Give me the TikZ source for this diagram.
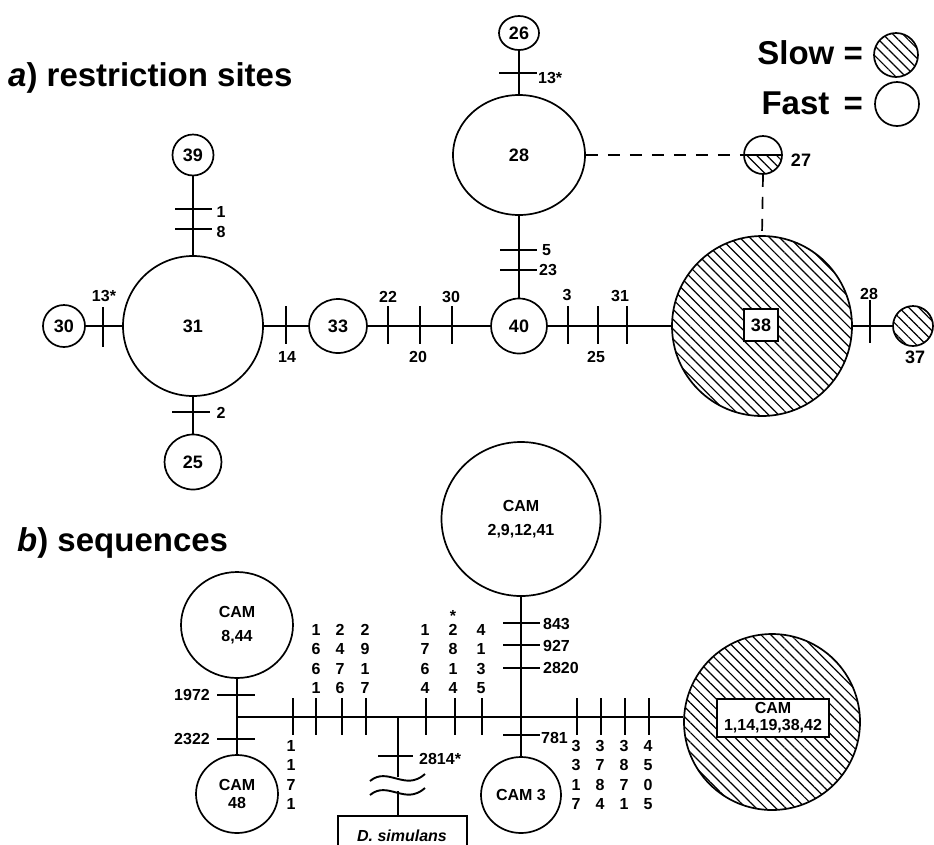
\documentclass[tikz,border=0pt]{standalone}
\usepackage{fontspec}
\setmainfont{Liberation Sans}
\usetikzlibrary{patterns.meta,shapes.geometric}
\begin{document}
\begin{tikzpicture}[x=1pt,y=-1pt,
  hap/.style={circle,draw,line width=1.7pt,inner sep=0pt,font=\bfseries\fontsize{18}{20}\selectfont},
  ell/.style={ellipse,draw,line width=1.7pt,inner sep=0pt,font=\bfseries\fontsize{18}{20}\selectfont},
  hatch/.style={pattern={Lines[angle=-45,distance=7pt,line width=1.2pt]}},
  conn/.style={line width=2.8pt},
  tickmark/.style={line width=1.8pt},
  lab/.style={font=\bfseries\fontsize{16}{18}\selectfont,inner sep=0pt},
  col/.style={font=\bfseries\fontsize{16}{19.3}\selectfont,align=center,inner sep=0pt},
  cam/.style={font=\bfseries\fontsize{16}{24}\selectfont,align=center},
  bigtitle/.style={font=\bfseries\fontsize{33}{36}\selectfont,inner sep=0pt},
  dashline/.style={line width=1.7pt,dash pattern=on 12pt off 10pt}
]
\useasboundingbox (0,0) rectangle (934,844);

% ---------------- titles & legend ----------------
\node[bigtitle,anchor=west] (ta) at (8,78) {\textit{a}) restriction sites};
\node[bigtitle,anchor=west] (tb) at (17,543) {\textit{b}) sequences};
\node[bigtitle,anchor=east] (slow) at (863,53) {Slow =};
\node[bigtitle,anchor=east] (fast) at (863,103) {Fast\hspace{5pt} =};
\node[hap,hatch,minimum size=44pt] (nslow) at (896,55) {};
\node[hap,minimum size=44pt] (nfast) at (897,104) {};

% ---------------- (a) restriction sites ----------------
\node[hap,minimum size=41pt] (n39) at (193,155) {39};
\node[hap,minimum size=140pt] (n31) at (193,326) {31};
\node[hap,minimum size=42pt] (n30) at (64,326) {30};
\node[ell,minimum width=58pt,minimum height=54pt] (n33) at (338,326) {33};
\node[ell,minimum width=57pt,minimum height=55pt] (n25) at (193,462) {25};
\node[ell,minimum width=56pt,minimum height=55pt] (n40) at (519,326) {40};
\node[ell,minimum width=132pt,minimum height=120pt] (n28) at (519,155) {28};
\node[ell,minimum width=40pt,minimum height=34pt] (n26) at (519,33) {26};
% node 27 (half slow / half fast)
\fill[hatch] (744,155) arc[start angle=180,end angle=360,radius=19pt] -- cycle;
\node[hap,minimum size=38pt] (n27) at (763,155) {};
\draw[line width=1.7pt] (n27.west) -- (n27.east);
\node[lab,font=\bfseries\fontsize{18}{20}\selectfont] (l27) at (801,160) {27};
% node 38
\node[hap,hatch,minimum size=180pt] (n38) at (762,326) {};
\node[draw,fill=white,line width=1.7pt,minimum width=34pt,minimum height=32pt,inner sep=0pt,font=\bfseries\fontsize{18}{20}\selectfont] (b38) at (761,325) {38};
\node[hap,hatch,minimum size=40pt] (n37) at (913,326) {};
\node[lab,font=\bfseries\fontsize{18}{20}\selectfont] (l37) at (915,357) {37};

% connectors (a)
\draw[conn] (n30) -- (n31);
\draw[conn] (n31) -- (n33);
\draw[conn] (n33) -- (n40);
\draw[conn] (n40) -- (n38);
\draw[conn] (n38) -- (n37);
\draw[conn] (n39) -- (n31);
\draw[conn] (n31) -- (n25);
\draw[conn] (n40) -- (n28);
\draw[conn] (n28) -- (n26);
\draw[dashline] (n28.east) -- (n28.east -| n27.west);
\draw[dashline] (n27.south) -- (n38.north);

% ticks (a)
\draw[tickmark] (175,209) -- (212,209);
\draw[tickmark] (175,229) -- (212,229);
\node[lab] (t1) at (221,212) {1};
\node[lab] (t8) at (221,232) {8};
\draw[tickmark] (103,307) -- (103,347);
\node[lab] (t13a) at (104,296) {13*};
\draw[tickmark] (286,306) -- (286,344);
\node[lab] (t14) at (287,357) {14};
\draw[tickmark] (172,412) -- (210,412);
\node[lab] (t2) at (221,413) {2};
\draw[tickmark] (388,306) -- (388,344);
\draw[tickmark] (420,306) -- (420,344);
\draw[tickmark] (452,306) -- (452,344);
\node[lab] (t22) at (388,297) {22};
\node[lab] (t20) at (418,357) {20};
\node[lab] (t30) at (451,297) {30};
\draw[tickmark] (568,306) -- (568,344);
\draw[tickmark] (598,306) -- (598,344);
\draw[tickmark] (627,306) -- (627,344);
\node[lab] (t3) at (567,295) {3};
\node[lab] (t25) at (596,357) {25};
\node[lab] (t31) at (620,296) {31};
\draw[tickmark] (500,250) -- (537,250);
\draw[tickmark] (500,270) -- (537,270);
\node[lab,anchor=west] (t5) at (542,250) {5};
\node[lab,anchor=west] (t23) at (539,270) {23};
\draw[tickmark] (499,73) -- (537,73);
\node[lab,anchor=west] (t13b) at (538,78) {13*};
\draw[tickmark] (870,300) -- (870,343);
\node[lab] (t28) at (869,294) {28};

% ---------------- (b) sequences ----------------
\node[ell,cam,minimum width=112pt,minimum height=106pt] (c844) at (237,625) {CAM\\8,44};
\node[ell,cam,font=\bfseries\fontsize{16}{18}\selectfont,minimum width=82pt,minimum height=78pt] (c48) at (237,794) {CAM\\48};
\node[ell,cam,minimum width=159pt,minimum height=154pt] (c2941) at (521,519) {CAM\\2,9,12,41};
\node[ell,cam,minimum width=80pt,minimum height=76pt] (c3) at (521,795) {CAM 3};
\node[hap,hatch,minimum size=176pt] (c1438) at (772,722) {};
\node[draw,fill=white,line width=1.7pt,minimum width=112pt,minimum height=38pt,inner sep=0pt,align=center,font=\bfseries\fontsize{16}{17}\selectfont] (b1438) at (773,718) {CAM\\1,14,19,38,42};
\node[draw,line width=2pt,minimum width=129pt,minimum height=40pt,inner sep=0pt,font=\bfseries\itshape\fontsize{16}{18}\selectfont] (sim) at (402,836) {D. simulans};

\coordinate (J1) at (237,717);
\coordinate (J2) at (398,717);
\coordinate (brk1) at (398,777);
\coordinate (brk2) at (398,791);

\draw[conn] (c844) -- (c48);
\draw[conn] (J1) -- (J1 -| c1438.west);
\draw[conn] (c2941) -- (c3);
\draw[conn] (J2) -- (brk1);
\draw[conn] (brk2) -- (brk2 |- sim.north);
\draw[line width=1.9pt] (370,781) .. controls (388,766) and (405,792) .. (425,774);
\draw[line width=1.9pt] (370,795) .. controls (388,780) and (405,806) .. (425,788);

% ticks (b)
\draw[tickmark] (217,695) -- (255,695);
\draw[tickmark] (217,739) -- (255,739);
\node[lab,anchor=east] (s1972) at (210,695) {1972};
\node[lab,anchor=east] (s2322) at (210,739) {2322};
\draw[tickmark] (503,623) -- (540,623);
\draw[tickmark] (503,645) -- (540,645);
\draw[tickmark] (503,668) -- (540,668);
\draw[tickmark] (503,735) -- (540,735);
\node[lab,anchor=west] (s843) at (543,624) {843};
\node[lab,anchor=west] (s927) at (543,646) {927};
\node[lab,anchor=west] (s2820) at (543,668) {2820};
\node[lab,anchor=west] (s781) at (541,738) {781};
\draw[tickmark] (378,756) -- (413,756);
\node[lab,anchor=west] (s2814) at (419,759) {2814*};

\foreach \x in {293,316,342,366,426,455,482,577,601,625,649}
  \draw[tickmark] (\x,698) -- (\x,735);

\node[col] (d1661) at (316,659) {1\\6\\6\\1};
\node[col] (d2476) at (340,659) {2\\4\\7\\6};
\node[col] (d2917) at (365,659) {2\\9\\1\\7};
\node[col] (d1764) at (425,659) {1\\7\\6\\4};
\node[col] (d2814) at (453,659) {2\\8\\1\\4};
\node[col] (d4135) at (481,659) {4\\1\\3\\5};
\node[lab] (ast) at (453,616) {*};
\node[col] (d1171) at (291,775) {1\\1\\7\\1};
\node[col] (d3317) at (576,775) {3\\3\\1\\7};
\node[col] (d3784) at (600,775) {3\\7\\8\\4};
\node[col] (d3871) at (624,775) {3\\8\\7\\1};
\node[col] (d4505) at (648,775) {4\\5\\0\\5};
\end{tikzpicture}
\end{document}
